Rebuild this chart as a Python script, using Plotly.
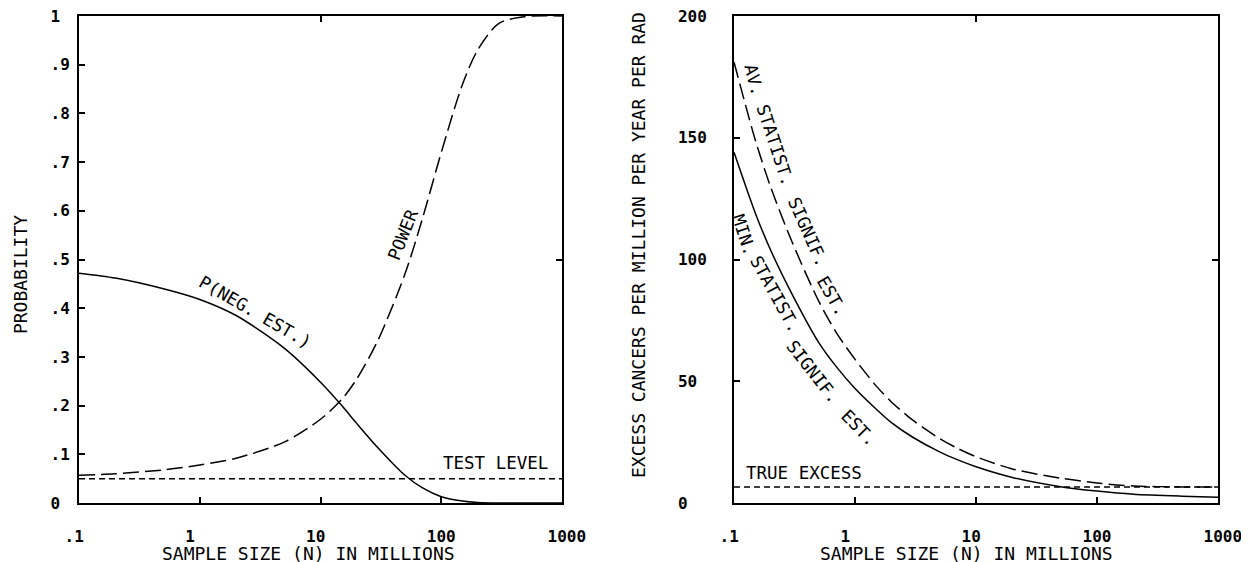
import math
import plotly.graph_objects as go

# ---------------- data ----------------
# Left panel: probability vs sample size (millions)
n_left = [0.1, 0.2, 0.5, 1, 2, 5, 10, 15, 20, 30, 50, 70, 100, 150, 200, 300, 500, 1000]
p_neg_est = [0.472, 0.462, 0.44, 0.418, 0.385, 0.318, 0.248, 0.200, 0.163, 0.113,
             0.057, 0.031, 0.013, 0.004, 0.001, 0.0, 0.0, 0.0]
power = [0.057, 0.060, 0.068, 0.078, 0.092, 0.125, 0.172, 0.213, 0.255, 0.335,
         0.47, 0.585, 0.72, 0.86, 0.93, 0.985, 0.999, 1.0]
test_level_n = [0.1, 1000]
test_level = [0.05, 0.05]

# Right panel: excess cancers per million per year per rad
n_right = [0.1, 0.15, 0.2, 0.3, 0.5, 0.7, 1, 1.5, 2, 3, 5, 7, 10, 20, 50, 100, 200, 500, 1000]
min_signif = [144, 119, 104, 86, 66, 56, 47, 38.5, 33, 27, 21, 17.8, 14.9, 10.5, 6.7, 4.9, 3.6, 2.8, 2.4]
av_signif = [181, 149, 130, 107.5, 83, 70, 59, 48, 41.5, 34, 26.5, 22.5, 19, 14, 10.2, 8.2, 7.0, 6.6, 6.6]
true_excess_n = [0.1, 1000]
true_excess = [6.6, 6.6]

# tick labels
x_tickvals = [0.1, 1, 10, 100, 1000]
x_ticktext = [".1", "1", "10", "100", "1000"]
y1_tickvals = [0, 0.1, 0.2, 0.3, 0.4, 0.5, 0.6, 0.7, 0.8, 0.9, 1]
y1_ticktext = ["0", ".1", ".2", ".3", ".4", ".5", ".6", ".7", ".8", ".9", "1"]
y2_tickvals = [0, 50, 100, 150, 200]
y2_ticktext = ["0", "50", "100", "150", "200"]

NB = "\u00a0"
FONT = "DejaVu Sans Mono"


def pad_right(s, w):
    return s + NB * (w - len(s))


x_tt = [NB + pad_right(t, 4) for t in x_ticktext]
y1_tt = [pad_right(t, 2) for t in y1_ticktext]
y2_tt = [pad_right(t, 3) for t in y2_ticktext]

fig = go.Figure()

LW = 1.5
SM = 0.8
fig.add_trace(go.Scatter(x=n_left, y=p_neg_est, mode="lines", xaxis="x", yaxis="y",
                         line=dict(color="black", width=LW, shape="spline", smoothing=SM)))
fig.add_trace(go.Scatter(x=n_left, y=power, mode="lines", xaxis="x", yaxis="y",
                         line=dict(color="black", width=LW, dash="16px,6px", shape="spline", smoothing=SM)))
fig.add_trace(go.Scatter(x=test_level_n, y=test_level, mode="lines", xaxis="x", yaxis="y",
                         line=dict(color="black", width=LW, dash="6px,4px")))

fig.add_trace(go.Scatter(x=n_right, y=min_signif, mode="lines", xaxis="x2", yaxis="y2",
                         line=dict(color="black", width=LW, shape="spline", smoothing=SM)))
fig.add_trace(go.Scatter(x=n_right, y=av_signif, mode="lines", xaxis="x2", yaxis="y2",
                         line=dict(color="black", width=LW, dash="16px,6px", shape="spline", smoothing=SM)))
fig.add_trace(go.Scatter(x=true_excess_n, y=true_excess, mode="lines", xaxis="x2", yaxis="y2",
                         line=dict(color="black", width=LW, dash="6px,4px")))

# empty traces for the overlay axes carrying the single top / right ticks
fig.add_trace(go.Scatter(x=[], y=[], xaxis="x3", yaxis="y3", showlegend=False))
fig.add_trace(go.Scatter(x=[], y=[], xaxis="x4", yaxis="y4", showlegend=False))

dom1 = [0, 0.4241]
dom2 = [0.5751, 1]

TICKFONT = dict(family=FONT, size=16, color="black", weight="bold")

common_x = dict(type="log", range=[-1, 3], showgrid=False, zeroline=False, automargin=False,
                showline=True, linecolor="black", linewidth=2, mirror=True,
                ticks="inside", ticklen=6, tickwidth=1.5, tickcolor="black",
                tickvals=x_tickvals, ticktext=x_tt, ticklabelstandoff=18,
                ticklabeloverflow="allow", tickfont=TICKFONT)
common_y = dict(showgrid=False, zeroline=False, automargin=False,
                showline=True, linecolor="black", linewidth=2, mirror=True,
                ticks="inside", ticklen=6, tickwidth=1.5, tickcolor="black",
                ticklabeloverflow="allow", tickfont=TICKFONT)
overlay = dict(showticklabels=False, ticks="inside", ticklen=6, tickwidth=1.5, automargin=False,
               tickcolor="black", showgrid=False, zeroline=False, showline=False)

# page body has an 8px margin, so the figure is sized/margined to land on page coords
fig.update_layout(
    width=1241, height=554,
    margin=dict(l=71, r=31, t=8, b=59, autoexpand=False),
    paper_bgcolor="white", plot_bgcolor="white",
    showlegend=False,
    font=dict(family=FONT, size=17, color="black"),
    xaxis=dict(domain=dom1, anchor="y", **common_x),
    yaxis=dict(domain=[0, 1], anchor="x", range=[0, 1], tickvals=y1_tickvals, ticktext=y1_tt,
               ticklabelstandoff=4, **common_y),
    xaxis2=dict(domain=dom2, anchor="y2", **common_x),
    yaxis2=dict(domain=[0, 1], anchor="x2", range=[0, 200], tickvals=y2_tickvals, ticktext=y2_tt,
                ticklabelstandoff=22, **common_y),
    xaxis3=dict(type="log", range=[-1, 3], overlaying="x", anchor="y3", side="top",
                tickvals=[10], **overlay),
    yaxis3=dict(range=[0, 1], overlaying="y", anchor="x3", side="right",
                tickvals=[0.5], **overlay),
    xaxis4=dict(type="log", range=[-1, 3], overlaying="x2", anchor="y4", side="top",
                tickvals=[10], **overlay),
    yaxis4=dict(range=[0, 200], overlaying="y2", anchor="x4", side="right",
                tickvals=[100], **overlay),
)

ann = []


def A(text, x, y, xref, yref, angle=0, size=17.5, bold=False):
    f = dict(family=FONT, size=size, color="black")
    if bold:
        f["weight"] = "bold"
    ann.append(dict(text=text, x=x, y=y, xref=xref, yref=yref, showarrow=False,
                    textangle=angle, font=f, xanchor="center", yanchor="middle"))


lg = math.log10

# axis titles
A("PROBABILITY", -0.0518, 0.470, "paper", "paper", -90, 18)
A("EXCESS CANCERS PER MILLION PER YEAR PER RAD", 0.4917, 0.5298, "paper", "paper", -90, 18)
A("SAMPLE SIZE (N) IN MILLIONS", 0.2011, -0.1047, "paper", "paper", 0, 18)
A("SAMPLE SIZE (N) IN MILLIONS", 0.7788, -0.1047, "paper", "paper", 0, 18)

# left panel labels
A("P(NEG. EST.)", lg(2.87), 0.392, "x", "y", 30)
A("POWER", lg(48.2), 0.55, "x", "y", -68)
A("TEST LEVEL", lg(279), 0.082, "x", "y", 0)

# right panel labels
A("TRUE EXCESS", lg(0.379), 12.3, "x2", "y2", 0)
A("AV.", lg(0.146), 173.7, "x2", "y2", 76)
A("STATIST.", lg(0.218), 147.0, "x2", "y2", 72)
A("SIGNIF.", lg(0.408), 111.3, "x2", "y2", 66)
A("EST.", lg(0.645), 85.0, "x2", "y2", 60)
A("MIN.", lg(0.121), 110.1, "x2", "y2", 72)
A("STATIST.", lg(0.2184), 85.8, "x2", "y2", 61)
A("SIGNIF.", lg(0.4498), 53.8, "x2", "y2", 52)
A("EST.", lg(1.079), 30.8, "x2", "y2", 46)

fig.update_layout(annotations=ann)

fig.write_html("out.html")
